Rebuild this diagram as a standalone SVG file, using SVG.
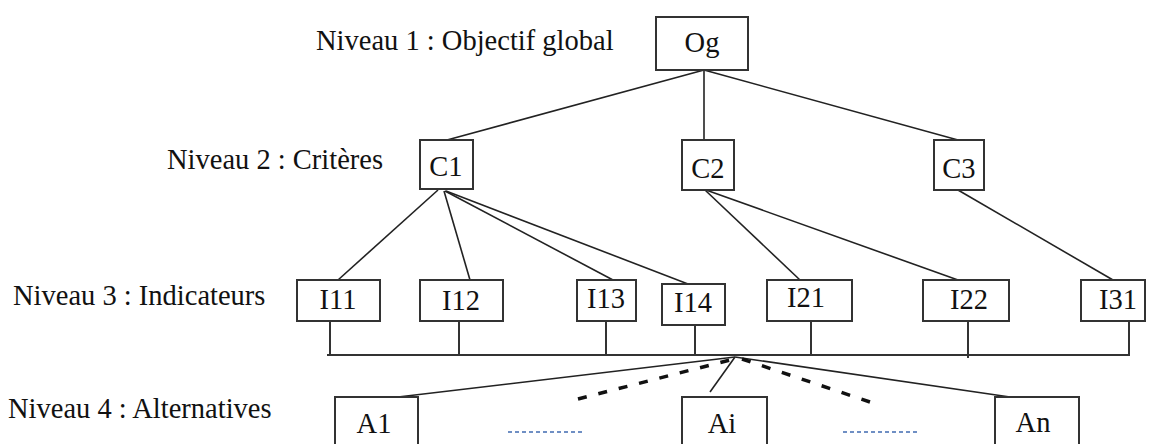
<svg xmlns="http://www.w3.org/2000/svg" width="1150" height="444" viewBox="0 0 1150 444">
<style>
.box{fill:#fff;stroke:#333;stroke-width:2}
.t{font-family:"Liberation Serif","Times New Roman",serif;font-size:28.5px;fill:#111}
.c{text-anchor:middle}
.ln{stroke:#222;stroke-width:1.6;fill:none}
.bus{stroke:#333;stroke-width:2;fill:none}
.dash{stroke:#111;stroke-width:3.5;stroke-dasharray:9 12;fill:none}
.dot{stroke:#6f8fc4;stroke-width:2;stroke-dasharray:4 3;fill:none}
</style>
<rect width="1150" height="444" fill="#fff"/>
<g id="labels">
<text class="t" x="316" y="50">Niveau 1 : Objectif global</text>
<text class="t" x="167" y="169">Niveau 2 : Critères</text>
<text class="t" x="13" y="305">Niveau 3 : Indicateurs</text>
<text class="t" x="8" y="418">Niveau 4 : Alternatives</text>
</g>
<g id="connectors">
<line class="ln" x1="704" y1="70" x2="447" y2="140"/>
<line class="ln" x1="704" y1="70" x2="704" y2="140"/>
<line class="ln" x1="704" y1="70" x2="958" y2="140"/>
<line class="ln" x1="438" y1="190" x2="338" y2="280"/>
<line class="ln" x1="444" y1="191" x2="470" y2="280"/>
<line class="ln" x1="445" y1="191" x2="613" y2="280"/>
<line class="ln" x1="446" y1="191" x2="688" y2="284"/>
<line class="ln" x1="705" y1="190" x2="800" y2="280"/>
<line class="ln" x1="706" y1="190" x2="958" y2="280"/>
<line class="ln" x1="958" y1="190" x2="1113" y2="280"/>
<polyline class="bus" points="330,321 330,355"/>
<polyline class="bus" points="459,321 459,355"/>
<polyline class="bus" points="606,321 606,355"/>
<polyline class="bus" points="695,325 695,355"/>
<polyline class="bus" points="811,321 811,355"/>
<polyline class="bus" points="968,321 968,358"/>
<polyline class="bus" points="1129,321 1129,355"/>
<line class="bus" x1="327" y1="355" x2="1130" y2="355"/>
<line class="ln" x1="735" y1="357" x2="398" y2="397"/>
<line class="ln" x1="735" y1="357" x2="710" y2="392"/>
<line class="ln" x1="735" y1="357" x2="1010" y2="397"/>
<line class="dash" x1="578" y1="399" x2="730" y2="360"/>
<line class="dash" x1="742" y1="359" x2="870" y2="402"/>
<line class="dot" x1="508" y1="432" x2="582" y2="432"/>
<line class="dot" x1="843" y1="432" x2="917" y2="432"/>
</g>
<g id="Og"><rect class="box" x="656" y="17" width="92" height="53"/><text class="t c" x="702" y="52">Og</text></g>
<g id="C1"><rect class="box" x="420" y="140" width="53" height="49"/><text class="t c" x="446" y="176">C1</text></g>
<g id="C2"><rect class="box" x="682" y="140" width="52" height="50"/><text class="t c" x="708" y="178">C2</text></g>
<g id="C3"><rect class="box" x="934" y="140" width="50" height="50"/><text class="t c" x="959" y="178">C3</text></g>
<g id="I11"><rect class="box" x="297" y="280" width="83" height="41"/><text class="t c" x="338" y="309">I11</text></g>
<g id="I12"><rect class="box" x="420" y="280" width="83" height="41"/><text class="t c" x="461" y="310">I12</text></g>
<g id="I13"><rect class="box" x="577" y="280" width="59" height="41"/><text class="t c" x="606" y="308">I13</text></g>
<g id="I14"><rect class="box" x="662" y="284" width="63" height="41"/><text class="t c" x="693" y="312">I14</text></g>
<g id="I21"><rect class="box" x="767" y="280" width="85" height="41"/><text class="t c" x="806" y="307">I21</text></g>
<g id="I22"><rect class="box" x="923" y="280" width="86" height="41"/><text class="t c" x="969" y="309">I22</text></g>
<g id="I31"><rect class="box" x="1081" y="280" width="64" height="41"/><text class="t c" x="1118" y="309">I31</text></g>
<g id="A1"><rect class="box" x="335" y="397" width="83" height="60"/><text class="t c" x="374" y="433">A1</text></g>
<g id="Ai"><rect class="box" x="682" y="397" width="85" height="60"/><text class="t c" x="722" y="433">Ai</text></g>
<g id="An"><rect class="box" x="995" y="397" width="84" height="60"/><text class="t c" x="1033" y="432">An</text></g>
</svg>
